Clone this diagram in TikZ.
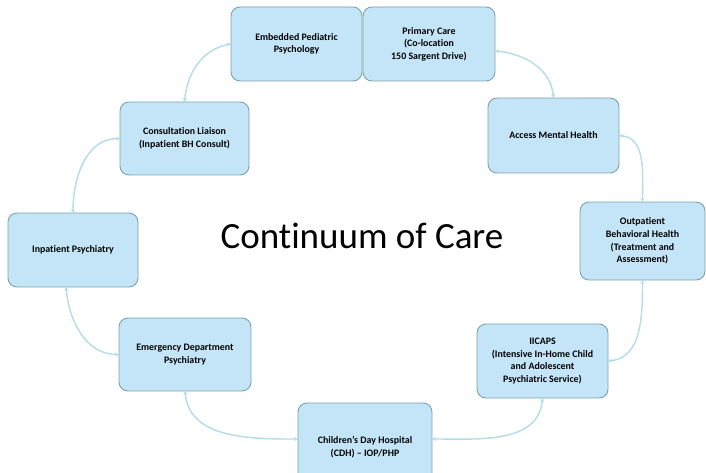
\documentclass[tikz,border=0pt]{standalone}
\usepackage{fontspec}
\setmainfont{Carlito}[Ligatures=NoCommon]
\usetikzlibrary{positioning}
\usetikzlibrary{arrows.meta}
\definecolor{boxfill}{HTML}{C4E5F8}
\definecolor{boxline}{HTML}{7AA3AE}
\definecolor{linkcol}{HTML}{B3DCE8}

\begin{document}
\begin{tikzpicture}[x=1pt,y=1pt,every node/.style={outer sep=0pt},
 unit/.style={draw=boxline,fill=boxfill,rounded corners=9pt,line width=0.9pt,
 align=center,font=\bfseries\fontsize{9.9}{12.6}\selectfont,inner sep=2pt},
 link/.style={draw=linkcol,line width=1.4pt,{Stealth[length=4pt,width=4pt]}-{Stealth[length=4pt,width=4pt]}}]

 \useasboundingbox (0,0) rectangle (706,-473);

 \node[unit,minimum width=131pt,minimum height=74pt] (emb) at (296.5,-44) {Embedded Pediatric\\Psychology};
 \node[unit,minimum width=132pt,minimum height=74pt] (prim) at (429,-44) {Primary Care\\(Co-location\\150 Sargent Drive)};
 \node[unit,minimum width=131pt,minimum height=75pt] (acc) at (553.5,-135.5) {Access Mental Health};
 \node[unit,minimum width=125pt,minimum height=78pt] (outp) at (642.5,-241) {Outpatient\\Behavioral Health\\(Treatment and\\Assessment)};
 \node[unit,minimum width=131pt,minimum height=74pt] (iic) at (542.5,-361) {IICAPS\\(Intensive In-Home Child\\and Adolescent\\Psychiatric Service)};
 \node[unit,minimum width=134pt,minimum height=88pt] (cdh) at (365,-447) {Children's Day Hospital\\(CDH) -- IOP/PHP};
 \node[unit,minimum width=132pt,minimum height=73pt] (ed) at (185,-354.5) {Emergency Department\\Psychiatry};
 \node[unit,minimum width=130pt,minimum height=74pt] (inp) at (73,-250) {Inpatient Psychiatry};
 \node[unit,minimum width=129pt,minimum height=73pt] (cl) at (184.5,-138.5) {Consultation Liaison\\(Inpatient BH Consult)};

 \node[font=\fontsize{37}{40}\selectfont,anchor=base] (title) at (362,-248) {Continuum of Care};

 % links round the circle
 \draw[link] (emb.west) to[out=190,in=85] (cl.north);
 \draw[link] ([yshift=-7pt]prim.east) to[out=-5,in=95] (acc.north);
 \draw[link] (acc.east) to[out=-5,in=90] (outp.north);
 \draw[link] (outp.south) to[out=-90,in=5] (iic.east);
 \draw[link] (iic.south) to[out=-95,in=0] ([yshift=8pt]cdh.east);
 \draw[link] ([yshift=8pt]cdh.west) to[out=180,in=-85] (ed.south);
 \draw[link] (ed.west) to[out=180,in=-85] ([xshift=-7pt]inp.south);
 \draw[link] (inp.north) to[out=90,in=180] (cl.west);

\end{tikzpicture}
\end{document}
